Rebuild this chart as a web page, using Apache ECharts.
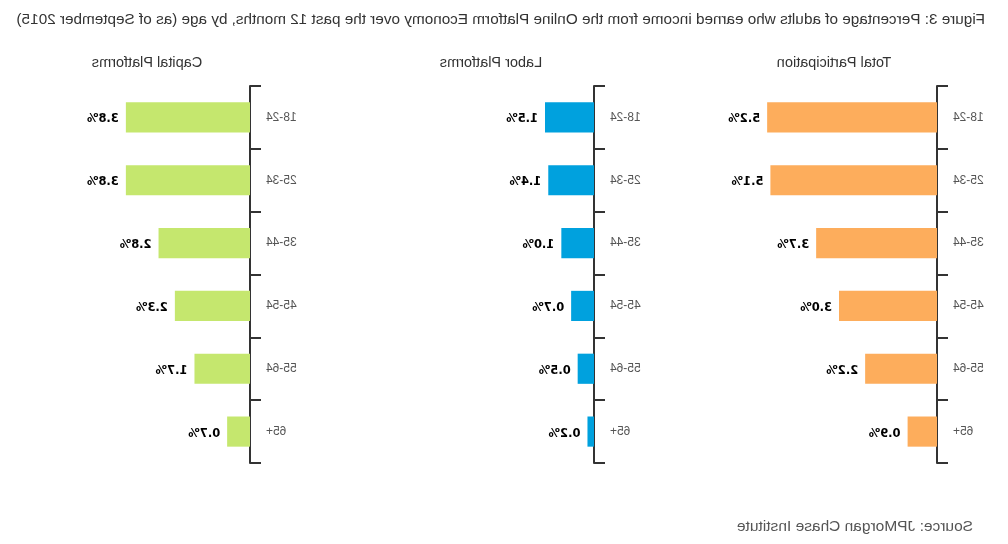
<!DOCTYPE html>
<html>
<head>
<meta charset="utf-8">
<script src="https://cdn.jsdelivr.net/npm/echarts@6/dist/echarts.min.js"></script>
<style>
html,body{margin:0;padding:0;background:#fff;}
#chart{width:1008px;height:544px;transform:scaleX(-1);}
</style>
</head>
<body>
<div id="chart"></div>
<script>
const categories = ['18-24','25-34','35-44','45-54','55-64','65+'];
const totalParticipation = [5.2, 5.1, 3.7, 3.0, 2.2, 0.9];
const laborPlatforms = [1.5, 1.4, 1.0, 0.7, 0.5, 0.2];
const capitalPlatforms = [3.8, 3.8, 2.8, 2.3, 1.7, 0.7];
const panelTitles = ['Total Participation', 'Labor Platforms', 'Capital Platforms'];
const colors = ['#FDAD5C', '#00A1DE', '#C5E76E'];
const mainTitle = 'Figure 3: Percentage of adults who earned income from the Online Platform Economy over the past 12 months, by age (as of September 2015)';
const sourceText = 'Source: JPMorgan Chase Institute';

const seriesData = [totalParticipation, laborPlatforms, capitalPlatforms];
const lefts = [71, 414, 758];
const chart = echarts.init(document.getElementById('chart'));

const grids = [], xAxes = [], yAxes = [], series = [], titles = [];
titles.push({text: mainTitle, left: 18, top: 7,
  textStyle: {fontFamily: 'Liberation Sans', fontSize: 15.3, fontWeight: 'normal', color: '#333'}});
titles.push({text: sourceText, left: 30, top: 514,
  textStyle: {fontFamily: 'Liberation Sans', fontSize: 15.5, fontWeight: 'normal', color: '#555'}});
lefts.forEach((l, i) => {
  grids.push({left: l, top: 86, width: 196, height: 377});
  xAxes.push({type: 'value', gridIndex: i, min: 0, max: 6, show: false});
  yAxes.push({type: 'category', gridIndex: i, data: categories, inverse: true,
    axisLine: {show: true, lineStyle: {color: '#333', width: 2}},
    axisTick: {show: true, length: 11, lineStyle: {color: '#333', width: 2}},
    axisLabel: {show: true, margin: 16, padding: [5, 0, 0, 0], color: '#555', fontFamily: 'Liberation Sans', fontSize: 12}});
  series.push({type: 'bar', xAxisIndex: i, yAxisIndex: i, data: seriesData[i],
    barWidth: '48%', itemStyle: {color: colors[i]},
    label: {show: true, position: 'right', distance: 7, offset: [0, 2], color: '#000',
      fontFamily: 'DejaVu Sans', fontWeight: 'bold', fontSize: 11.5,
      formatter: p => p.value.toFixed(1) + '%'}});
  titles.push({text: panelTitles[i], left: l + 98, top: 50, textAlign: 'center',
    textStyle: {fontFamily: 'Liberation Sans', fontSize: 14.5, fontWeight: 'normal', color: '#333'}});
});

chart.setOption({
  animation: false,
  title: titles,
  grid: grids,
  xAxis: xAxes,
  yAxis: yAxes,
  series: series
});
</script>
</body>
</html>
